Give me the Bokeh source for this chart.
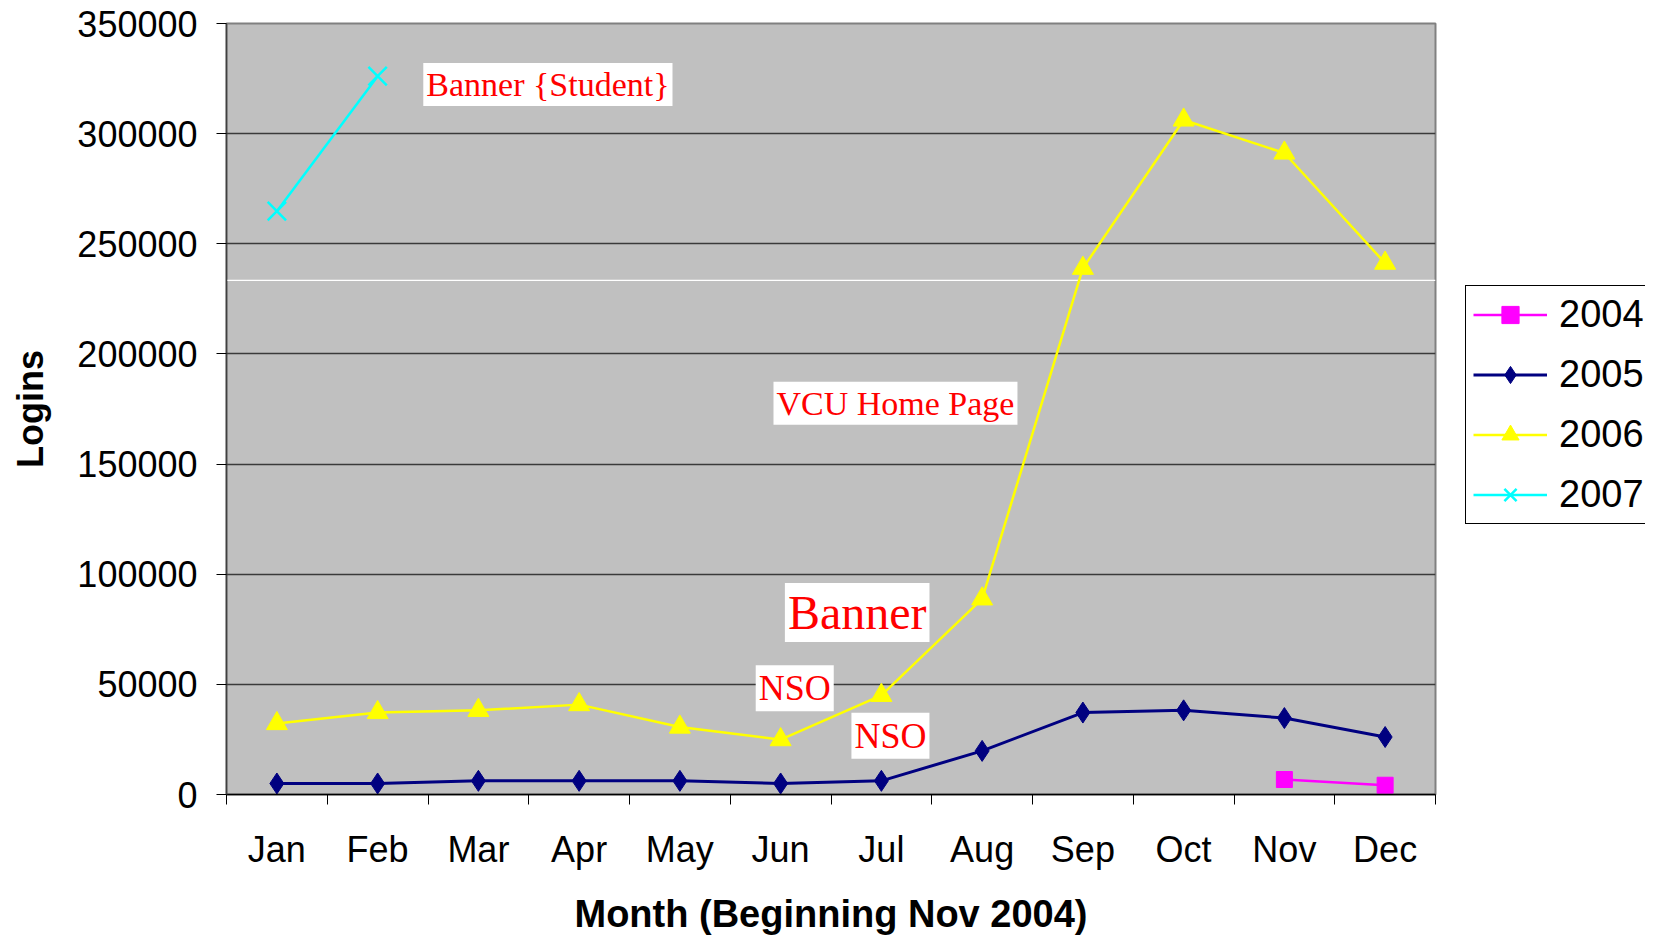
import math
from bokeh.plotting import figure
from bokeh.layouts import row
from bokeh.models import (FixedTicker, NumeralTickFormatter, Label, Legend,
                          LegendItem, Range1d)
from bokeh.embed import file_html
from bokeh.resources import INLINE

nan = float("nan")

# ---- data ----
months = ["Jan", "Feb", "Mar", "Apr", "May", "Jun",
          "Jul", "Aug", "Sep", "Oct", "Nov", "Dec"]
month_pos = list(range(1, 13))
years = ["2004", "2005", "2006", "2007"]
logins_2004 = [nan, nan, nan, nan, nan, nan, nan, nan, nan, nan, 6800, 4200]
logins_2005 = [5000, 5000, 6200, 6200, 6200, 5000, 6200, 19800, 37200, 38200, 34700, 26100]
logins_2006 = [32200, 37200, 38200, 40800, 30600, 24900, 45000, 88800,
               238900, 306200, 291200, 241200]
logins_2007 = [264800, 326100, nan, nan, nan, nan, nan, nan, nan, nan, nan, nan]
y_ticks = [0, 50000, 100000, 150000, 200000, 250000, 300000, 350000]

# annotations (text, month position, logins, font size)
notes_text = ["Banner {Student}", "VCU Home Page", "Banner", "NSO", "NSO"]
notes_x = [3.69, 7.14, 6.76, 6.14, 7.09]
notes_y = [322300, 177600, 82600, 48200, 26700]
notes_size = ["34px", "34px", "48px", "36px", "36px"]

white_line_level = 233400

SANS = "Liberation Sans"
SERIF = "Liberation Serif"

colors = ["#FF00FF", "#000080", "#FFFF00", "#00FFFF"]
markers = ["square", "diamond", "triangle", "x"]
msizes = [16, 21, 21, 26]
lwidths = [2.5, 3, 2.5, 2.5]
series = [logins_2004, logins_2005, logins_2006, logins_2007]


def draw_series(fig):
    rends = []
    for vals, c, mk, ms, lw in zip(series, colors, markers, msizes, lwidths):
        lr = fig.line(month_pos, vals, line_color=c, line_width=lw)
        if mk == "x":
            sr = fig.scatter(month_pos, vals, marker=mk, size=ms,
                             line_color=c, line_width=2.5)
        else:
            sr = fig.scatter(month_pos, vals, marker=mk, size=ms,
                             fill_color=c, line_color=c)
        rends.append((lr, sr))
    return rends


p = figure(width=1440, height=937, output_backend="svg", toolbar_location=None,
           x_range=Range1d(0.5, 12.5), y_range=Range1d(0, 350000),
           min_border_left=226, min_border_right=5,
           min_border_top=23, min_border_bottom=143)
p.background_fill_color = "#C0C0C0"
p.border_fill_color = "white"
p.outline_line_color = "#808080"
p.outline_line_width = 2

# x axis
xa = p.xaxis[0]
xa.ticker = FixedTicker(ticks=month_pos, minor_ticks=[i + 0.5 for i in range(0, 13)])
xa.major_label_overrides = {i: m for i, m in zip(month_pos, months)}
xa.major_tick_out = 0
xa.major_tick_in = 0
xa.minor_tick_out = 10
xa.minor_tick_in = 0
xa.minor_tick_line_color = "black"
xa.axis_line_color = "black"
xa.axis_line_width = 1.5
xa.major_label_text_font = SANS
xa.major_label_text_font_size = "36px"
xa.major_label_text_color = "black"
xa.major_label_standoff = 24
xa.axis_label = "Month (Beginning Nov 2004)"
xa.axis_label_text_font = SANS
xa.axis_label_text_font_style = "bold"
xa.axis_label_text_font_size = "38px"
xa.axis_label_text_color = "black"
xa.axis_label_standoff = 20

# y axis
ya = p.yaxis[0]
ya.ticker = FixedTicker(ticks=y_ticks)
ya.formatter = NumeralTickFormatter(format="0")
ya.major_tick_out = 10
ya.major_tick_in = 0
ya.minor_tick_out = 0
ya.minor_tick_in = 0
ya.major_tick_line_color = "black"
ya.axis_line_color = "#404040"
ya.axis_line_width = 1.5
ya.major_label_text_font = SANS
ya.major_label_text_font_size = "36px"
ya.major_label_text_color = "black"
ya.major_label_standoff = 19
ya.axis_label = "Logins"
ya.axis_label_text_font = SANS
ya.axis_label_text_font_style = "bold"
ya.axis_label_text_font_size = "36px"
ya.axis_label_text_color = "black"
ya.axis_label_standoff = 23

p.xgrid.visible = False
p.ygrid.ticker = FixedTicker(ticks=y_ticks)
p.ygrid.grid_line_color = "#3a3a3a"
p.ygrid.grid_line_width = 1.5

p.segment(x0=[0.5], x1=[12.5], y0=[white_line_level], y1=[white_line_level],
          line_color="white", line_width=1.2, level="underlay")

draw_series(p)

for t, x, y, fs in zip(notes_text, notes_x, notes_y, notes_size):
    p.add_layout(Label(x=x, y=y, text=t, text_font=SERIF, text_font_size=fs,
                       text_color="red", text_align="center",
                       text_baseline="middle", background_fill_color="white",
                       background_fill_alpha=1.0, padding=3))

# ---- legend panel (separate figure to the right of the plot area) ----
# its ranges are far from the data, so only the legend is visible there
lf = figure(width=205, height=937, output_backend="svg", toolbar_location=None,
            x_axis_type=None, y_axis_type=None,
            x_range=Range1d(-20, -19), y_range=Range1d(-20, -19),
            min_border_left=0, min_border_right=0,
            min_border_top=0, min_border_bottom=0)
lf.outline_line_color = None
lf.background_fill_color = "white"
lf.border_fill_color = "white"
lf.xgrid.visible = False
lf.ygrid.visible = False

lrends = draw_series(lf)
items = [LegendItem(label=yr, renderers=[lr, sr]) for yr, (lr, sr) in zip(years, lrends)]

legend = Legend(items=items, location=(25, 270))
legend.label_text_font = SANS
legend.label_text_font_size = "38px"
legend.label_text_color = "black"
legend.glyph_width = 74
legend.glyph_height = 43
legend.label_standoff = 12
legend.spacing = 17
legend.padding = 7
legend.margin = 0
legend.border_line_color = "black"
legend.border_line_alpha = 1.0
legend.border_line_width = 1
legend.background_fill_color = "white"
legend.background_fill_alpha = 1.0
lf.add_layout(legend)

layout = row(p, lf)
open("out.html", "w").write(file_html(layout, INLINE))
